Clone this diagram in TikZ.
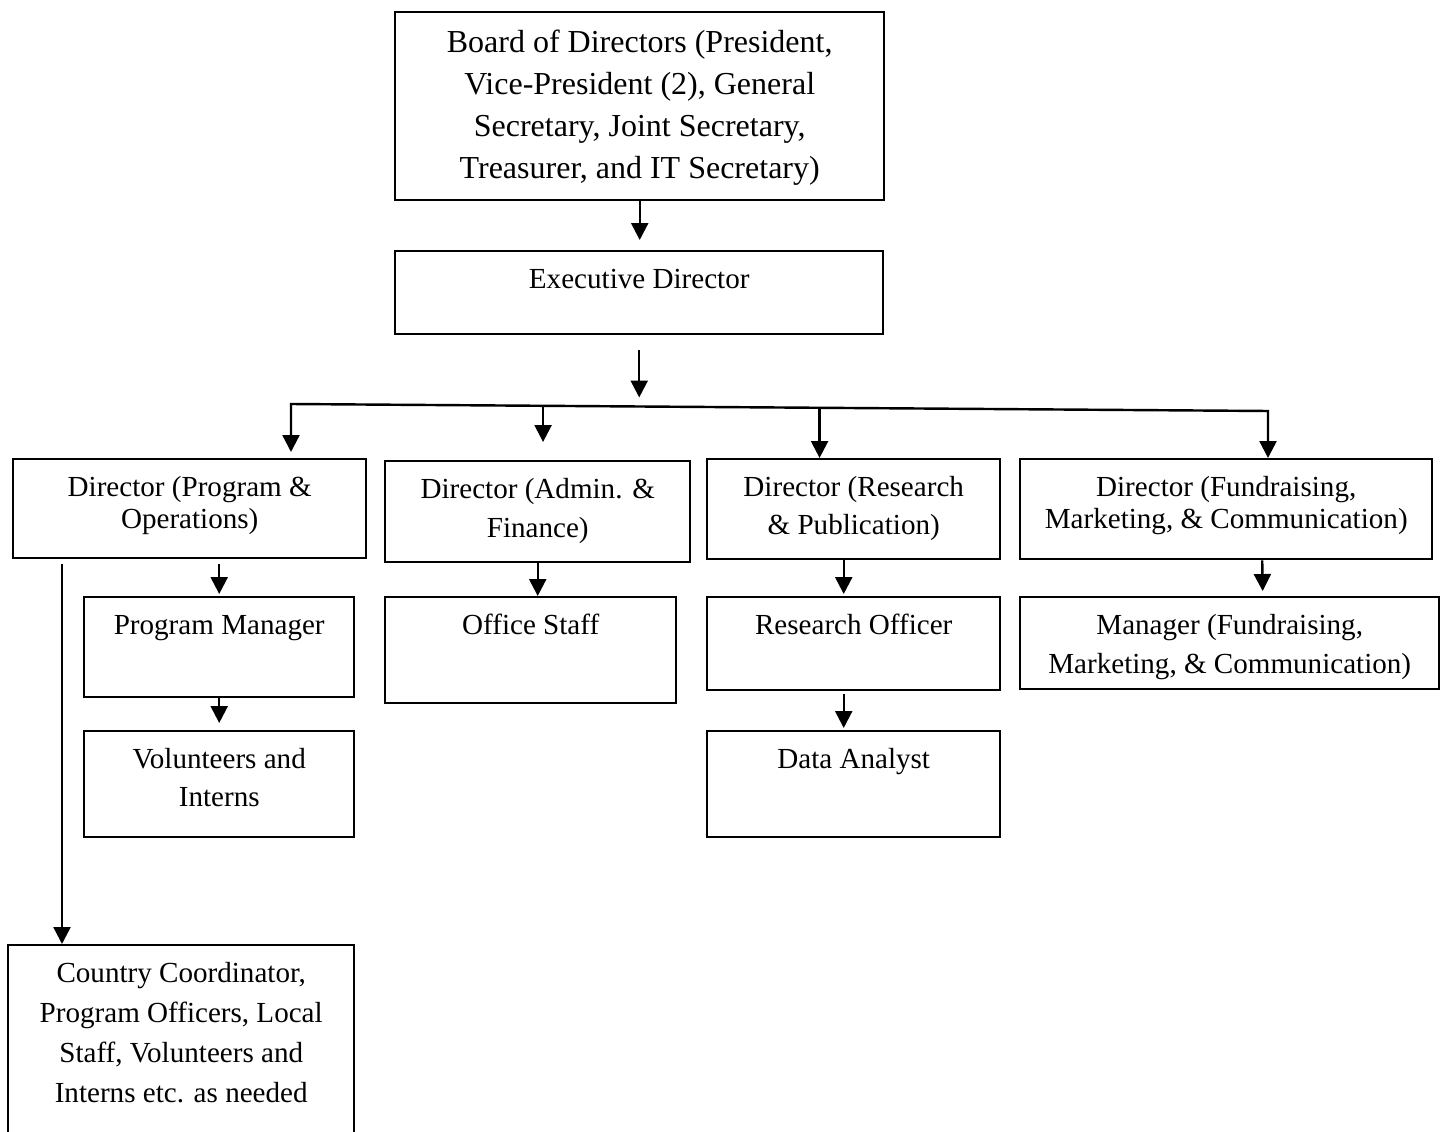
\documentclass[tikz,border=0pt]{standalone}
\usepackage{fontspec}
\setmainfont{Liberation Serif}
\usetikzlibrary{arrows.meta,calc}
\newlength{\px}
\setlength{\px}{0.0145cm}
% text block of a box: [line spacing]{height}{width}{lines}
\newcommand{\boxlines}[4][38]{\parbox[t][#2\px][t]{#3\px}{\centering\baselineskip=#1\px\rule{0pt}{1.27em}#4}}
\begin{document}
\begin{tikzpicture}[x=0.0145cm, y=-0.0145cm, line width=1pt,
                    font=\fontsize{12}{14}\selectfont,
                    unit/.style = {draw, rectangle,
                                inner sep=0pt,
                                anchor=north west},
                    arr/.style = {-{Triangle[width=7pt,length=7pt]}},
                    biarr/.style = {{Triangle[width=7pt,length=7pt]}-{Triangle[width=7pt,length=7pt]}}]
                    \useasboundingbox (0,0) rectangle (1442,1131);
                    % Board and executive
                    \node[unit, font=\fontsize{13.2}{16}\selectfont] (board) at (394,11) {\boxlines[42]{188}{489}{Board of Directors (President,\\ Vice-President (2), General\\ Secretary, Joint Secretary,\\ Treasurer, and IT Secretary)}};
                    \node[unit] (exec) at (394,250) {\boxlines{83}{488}{Executive Director}};
                    % Directors
                    \node[unit] (po) at (12,458) {\boxlines[32]{99}{353}{Director (Program \&\\ Operations)}};
                    \node[unit] (admin) at (384,460) {\boxlines[39]{101}{305}{Director (Admin. \&\\ Finance)}};
                    \node[unit] (res) at (706,458) {\boxlines[38]{100}{293}{Director (Research\\ \& Publication)}};
                    \node[unit] (fund) at (1019,458) {\boxlines[32]{100}{412}{Director (Fundraising,\\ Marketing, \& Communication)}};
                    % Staff
                    \node[unit] (pm) at (83,596) {\boxlines{100}{270}{Program Manager}};
                    \node[unit] (vi) at (83,730) {\boxlines{106}{270}{Volunteers and\\ Interns}};
                    \node[unit] (office) at (384,596) {\boxlines{106}{291}{Office Staff}};
                    \node[unit] (ro) at (706,596) {\boxlines{93}{293}{Research Officer}};
                    \node[unit] (da) at (706,730) {\boxlines{106}{293}{Data Analyst}};
                    \node[unit] (mgr) at (1019,596) {\boxlines[39]{92}{419}{Manager (Fundraising,\\ Marketing, \& Communication)}};
                    \node[unit] (country) at (7,944) {\boxlines[40]{200}{346}{Country Coordinator,\\ Program Officers, Local\\ Staff, Volunteers and\\ Interns etc. as needed}};
                    % Bus line
                    \coordinate (busL) at (291,404);
                    \coordinate (busR) at (1268,411);
                    \coordinate (hub) at ($(busL)!0.354!(busR)$);
                    \coordinate (tapA) at ($(busL)!0.258!(busR)$);
                    \coordinate (tapR) at ($(busL)!0.541!(busR)$);
                    % Arrows
                    \draw[arr, shorten >=10\px] (board.south) -- (board.south |- exec.north);
                    \draw[arr, shorten <=15\px, shorten >=9\px] (exec.south) -- (exec.south |- hub);
                    \draw[biarr, shorten <=6\px] (busL |- po.north) -- (busL) -- (busR) -- (busR |- fund.north);
                    \draw[arr, shorten >=18\px] (tapA) -- (tapA |- admin.north);
                    \draw[arr] (tapR) -- (tapR |- res.north);
                    \draw[arr, shorten <=5\px, shorten >=2\px] (po.south -| pm.north) -- (pm.north);
                    \draw[arr, shorten >=7\px] (pm.south) -- (vi.north);
                    \draw[arr, shorten <=5\px] ($(po.south west)+(50,0)$) -- ($(country.north west)+(55,0)$);
                    \draw[arr] (admin.south) -- (admin.south |- office.north);
                    \draw[arr, shorten >=2\px] ($(res.south)+(-10,0)$) -- ($(ro.north)+(-10,0)$);
                    \draw[arr, shorten <=3\px, shorten >=2\px] ($(ro.south)+(-10,0)$) -- ($(da.north)+(-10,0)$);
                    \draw[arr, shorten >=5\px] ($(fund.south)+(36,0)$) -- ($(mgr.north)+(33,0)$);
                \end{tikzpicture}
\end{document}
